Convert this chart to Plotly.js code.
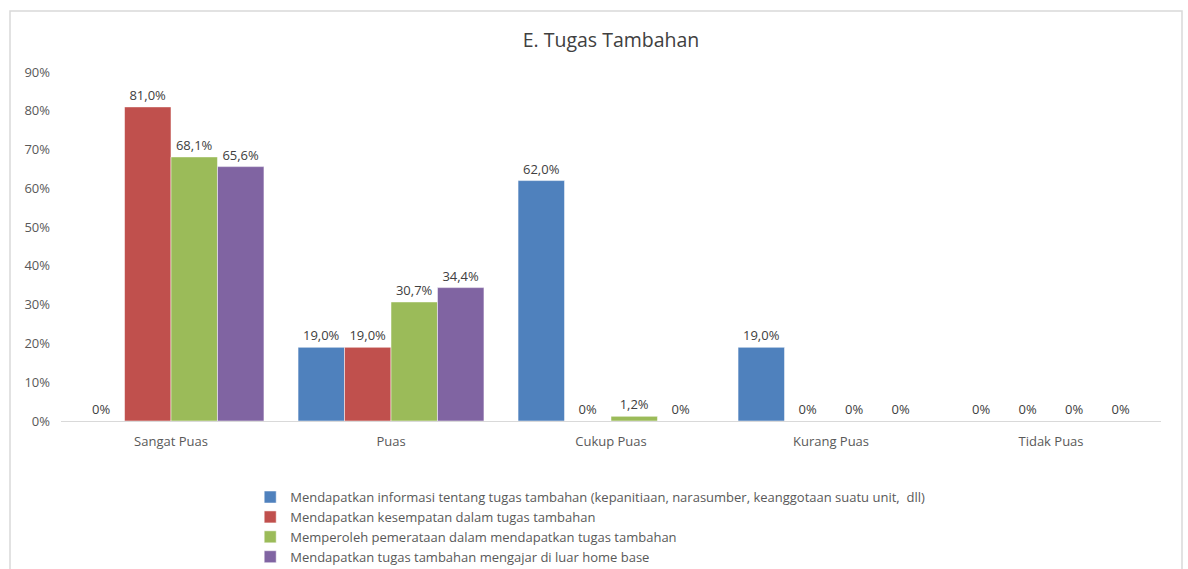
<!DOCTYPE html>
<html>
<head>
<meta charset="utf-8">
<script src="https://cdn.plot.ly/plotly-3.0.1.min.js"></script>
<style>html,body{margin:0;padding:0;background:#fff;}#chart{width:1188px;height:569px;}</style>
</head>
<body>
<div id="chart"></div>
<script>
const categories = ["Sangat Puas", "Puas", "Cukup Puas", "Kurang Puas", "Tidak Puas"];
const seriesNames = [
  "Mendapatkan informasi tentang tugas tambahan (kepanitiaan, narasumber, keanggotaan suatu unit,  dll)",
  "Mendapatkan kesempatan dalam tugas tambahan",
  "Memperoleh pemerataan dalam mendapatkan tugas tambahan",
  "Mendapatkan tugas tambahan mengajar di luar home base"
];
const informasi = [0, 0.19, 0.62, 0.19, 0];
const kesempatan = [0.81, 0.19, 0, 0, 0];
const pemerataan = [0.681, 0.307, 0.012, 0, 0];
const luarHomeBase = [0.656, 0.344, 0, 0, 0];
const colors = ["#4F81BD", "#C0504D", "#9BBB59", "#8064A2"];
const yTicks = [0, 0.1, 0.2, 0.3, 0.4, 0.5, 0.6, 0.7, 0.8, 0.9];
const yTickLabels = ["0%", "10%", "20%", "30%", "40%", "50%", "60%", "70%", "80%", "90%"];

function fmt(v) {
  if (v === 0) return "0%";
  return (v * 100).toFixed(1).replace(".", ",") + "%";
}

const allSeries = [informasi, kesempatan, pemerataan, luarHomeBase];
const font = "Open Sans, Liberation Sans, sans-serif";
const traces = allSeries.map((vals, i) => ({
  type: "bar",
  name: seriesNames[i],
  x: categories,
  y: vals,
  text: vals.map(fmt),
  textposition: "outside",
  textfont: {family: font, size: 13, color: "#404040"},
  cliponaxis: false,
  marker: {color: colors[i], line: {color: "rgba(255,255,255,0.5)", width: 1}},
  hoverinfo: "none"
}));

const layout = {
  width: 1188, height: 569,
  margin: {l: 61, r: 27, t: 72, b: 148, autoexpand: false},
  paper_bgcolor: "#fff", plot_bgcolor: "#fff",
  font: {family: font, color: "#595959", size: 13},
  title: {text: "E. Tugas Tambahan", x: 0.5, xref: "paper", y: 0.93, yref: "container", yanchor: "middle",
          font: {family: font, size: 19.5, color: "#404040"}},
  barmode: "group",
  bargap: 0.155,
  bargroupgap: 0,
  xaxis: {
    type: "category",
    showgrid: false, zeroline: false,
    showline: true, linecolor: "#d9d9d9", linewidth: 1,
    ticks: "", tickfont: {family: font, size: 13, color: "#595959"},
    ticklabelstandoff: 8
  },
  yaxis: {
    range: [0, 0.9],
    tickvals: yTicks, ticktext: yTickLabels,
    showgrid: false, zeroline: false, showline: false,
    ticks: "", tickfont: {family: font, size: 13, color: "#595959"},
    ticklabelstandoff: 10
  },
  showlegend: true,
  legend: {
    orientation: "v",
    x: 0.172, xanchor: "left",
    y: -0.175, yanchor: "top",
    font: {family: font, size: 13, color: "#595959"},
    tracegroupgap: 0,
    bgcolor: "rgba(0,0,0,0)"
  },
  shapes: [{
    type: "rect", xref: "paper", yref: "paper",
    x0: (10 - 61) / 1100, x1: (1182 - 61) / 1100,
    y0: (421 - 580) / 349, y1: (421 - 11) / 349,
    line: {color: "#d9d9d9", width: 1.5}, fillcolor: "rgba(0,0,0,0)", layer: "below"
  }]
};

Plotly.newPlot("chart", traces, layout, {displayModeBar: false, staticPlot: true});
</script>
</body>
</html>
